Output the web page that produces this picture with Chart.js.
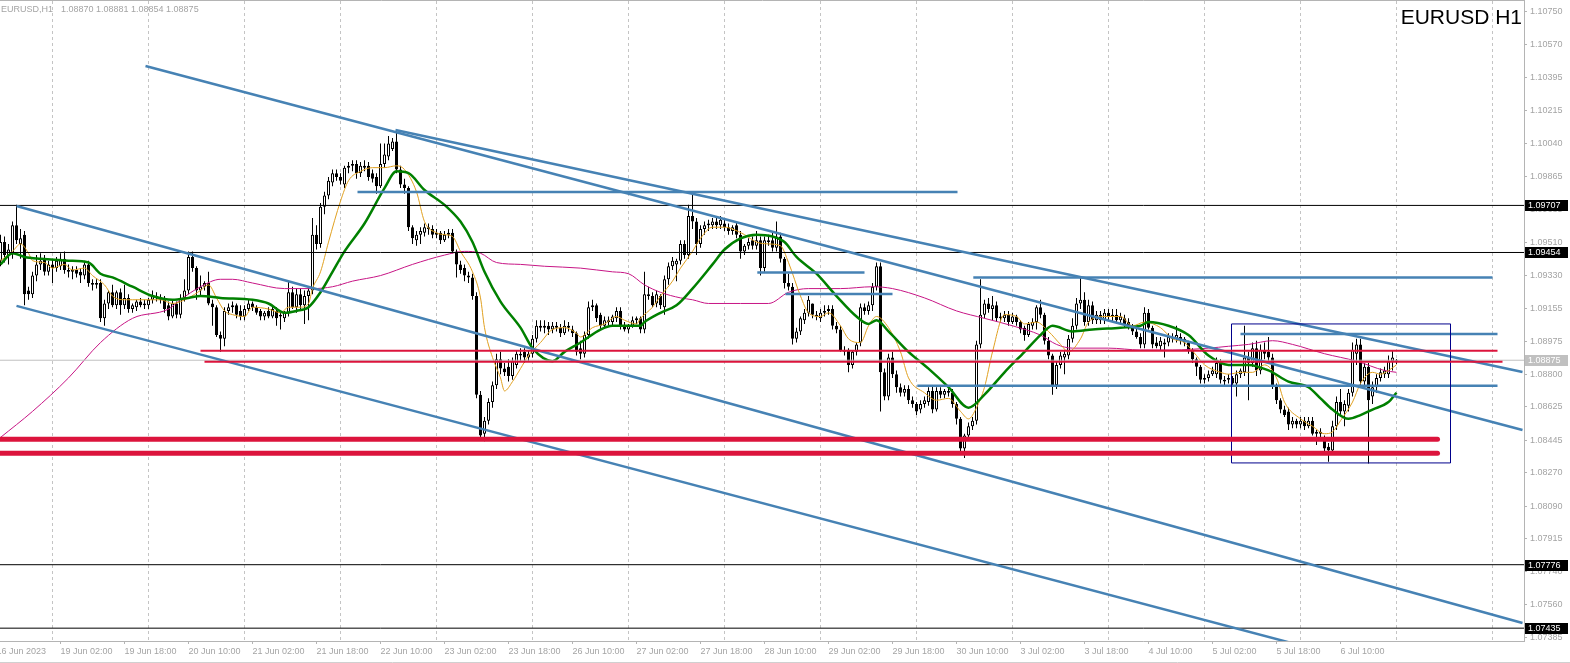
<!DOCTYPE html>
<html>
<head>
<meta charset="utf-8">
<title>EURUSD H1</title>
<style>
  html, body { margin: 0; padding: 0; background: #fff; }
  canvas { display: block; }
</style>
</head>
<body>
<canvas id="chart" width="1570" height="663"></canvas>
<script src="https://cdn.jsdelivr.net/npm/chart.js@4.4.1/dist/chart.umd.min.js"></script>
<script>
// EURUSD H1 candles, bar 0 = 16 Jun 2023 11:00 (weekends skipped, one bar per hour)
const opens = [
  1.0941,1.0951,1.0944,1.0945,1.0960,1.0950,1.0955,1.0925,1.0923,1.0933,
  1.0939,1.0942,1.0935,1.0939,1.0937,1.0938,1.0942,1.0936,1.0935,1.0936,
  1.0935,1.0933,1.0939,1.0929,1.0928,1.0929,1.0910,1.0918,1.0924,1.0917,
  1.0924,1.0917,1.0921,1.0915,1.0916,1.0919,1.0917,1.0917,1.0920,1.0922,
  1.0921,1.0920,1.0917,1.0911,1.0918,1.0912,1.0921,1.0925,1.0943,1.0937,
  1.0925,1.0927,1.0929,1.0918,1.0916,1.0901,1.0899,1.0914,1.0916,1.0917,
  1.0914,1.0911,1.0915,1.0918,1.0916,1.0914,1.0911,1.0914,1.0911,1.0914,
  1.0912,1.0910,1.0913,1.0924,1.0916,1.0923,1.0917,1.0922,1.0925,1.0955,
  1.0950,1.0970,1.0976,1.0983,1.0988,1.0986,1.0982,1.0991,1.0992,1.0993,
  1.0988,1.0992,1.0992,1.0988,1.0986,1.0981,1.0993,1.0997,1.1001,1.1005,
  1.0990,1.0982,1.0980,1.0959,1.0952,1.0955,1.0956,1.0959,1.0958,1.0955,
  1.0956,1.0952,1.0955,1.0956,1.0946,1.0939,1.0937,1.0933,1.0932,1.0922,
  1.0869,1.0848,1.0855,1.0865,1.0874,1.0888,1.0883,1.0884,1.0879,1.0885,
  1.0891,1.0892,1.0889,1.0891,1.0899,1.0906,1.0905,1.0906,1.0904,1.0906,
  1.0905,1.0902,1.0906,1.0904,1.0902,1.0894,1.0891,1.0901,1.0916,1.0917,
  1.0912,1.0906,1.0909,1.0908,1.0910,1.0914,1.0906,1.0904,1.0906,1.0909,
  1.0910,1.0904,1.0923,1.0922,1.0918,1.0922,1.0916,1.0931,1.0938,1.0939,
  1.0941,1.0950,1.0944,1.0965,1.0962,1.0950,1.0958,1.0960,1.0960,1.0962,
  1.0960,1.0961,1.0959,1.0957,1.0960,1.0955,1.0946,1.0949,1.0952,1.0949,
  1.0952,1.0937,1.0952,1.0952,1.0948,1.0954,1.0942,1.0929,1.0927,1.0899,
  1.0903,1.0909,1.0913,1.0918,1.0912,1.0910,1.0913,1.0914,1.0915,1.0906,
  1.0904,1.0893,1.0893,1.0885,1.0892,1.0897,1.0916,1.0914,1.0917,1.0927,
  1.0938,1.0881,1.0868,1.0889,1.0880,1.0873,1.0870,1.0872,1.0866,1.0864,
  1.0861,1.0864,1.0865,1.0871,1.0861,1.0871,1.0869,1.0871,1.0870,1.0864,
  1.0856,1.0840,1.0847,1.0852,1.0855,1.0896,1.0912,1.0918,1.0915,1.0917,
  1.0911,1.0910,1.0912,1.0908,1.0911,1.0908,1.0905,1.0901,1.0906,1.0908,
  1.0916,1.0912,1.0898,1.0890,1.0874,1.0885,1.0889,1.0890,1.0899,1.0906,
  1.0918,1.0920,1.0908,1.0917,1.0909,1.0912,1.0909,1.0913,1.0911,1.0912,
  1.0909,1.0910,1.0908,1.0906,1.0903,1.0900,1.0896,1.0913,1.0905,1.0897,
  1.0895,1.0896,1.0897,1.0900,1.0899,1.0900,1.0899,1.0897,1.0893,1.0888,
  1.0884,1.0877,1.0878,1.0880,1.0880,1.0886,1.0877,1.0877,1.0878,1.0875,
  1.0880,1.0881,1.0889,1.0886,1.0894,1.0882,1.0893,1.0892,1.0889,1.0874,
  1.0866,1.0861,1.0860,1.0853,1.0855,1.0853,1.0855,1.0852,1.0855,1.0848,
  1.0849,1.0846,1.0841,1.0839,1.0852,1.0865,1.0860,1.0863,1.0870,1.0891,
  1.0896,1.0876,1.0884,1.0868,1.0873,1.0878,1.0880,1.0880,1.0887,1.08870
];
const highs = [
  1.0955,1.0954,1.0950,1.0962,1.0971,1.0958,1.0957,1.0927,1.0935,1.0944,
  1.0945,1.0944,1.0941,1.0942,1.0943,1.0945,1.0946,1.0939,1.0938,1.0938,
  1.0937,1.0941,1.0941,1.0931,1.0931,1.0931,1.0920,1.0925,1.0928,1.0925,
  1.0926,1.0928,1.0923,1.0918,1.0920,1.0921,1.0920,1.0921,1.0925,1.0924,
  1.0923,1.0922,1.0919,1.0920,1.0919,1.0923,1.0931,1.0946,1.0946,1.0938,
  1.0933,1.0930,1.0935,1.0920,1.0917,1.0903,1.0916,1.0918,1.0919,1.0918,
  1.0917,1.0917,1.0920,1.0919,1.0917,1.0915,1.0914,1.0916,1.0917,1.0916,
  1.0913,1.0914,1.0930,1.0927,1.0926,1.0926,1.0925,1.0927,1.0964,1.0960,
  1.0972,1.0978,1.0986,1.0990,1.0990,1.0988,1.0992,1.0994,1.0995,1.0995,
  1.0994,1.0995,1.0994,1.0990,1.0988,1.1004,1.1004,1.1008,1.1007,1.1011,
  1.0992,1.0985,1.0981,1.0960,1.0957,1.0959,1.0961,1.0961,1.0960,1.0958,
  1.0957,1.0957,1.0958,1.0958,1.0947,1.0941,1.0939,1.0935,1.0934,1.0924,
  1.0871,1.0857,1.0867,1.0876,1.0891,1.0892,1.0886,1.0888,1.0889,1.0893,
  1.0894,1.0894,1.0893,1.0901,1.0909,1.0909,1.0909,1.0908,1.0908,1.0908,
  1.0907,1.0909,1.0908,1.0906,1.0903,1.0898,1.0903,1.0919,1.0920,1.0918,
  1.0913,1.0911,1.0911,1.0912,1.0916,1.0916,1.0908,1.0907,1.0911,1.0911,
  1.0911,1.0935,1.0927,1.0924,1.0925,1.0923,1.0933,1.0940,1.0943,1.0942,
  1.0952,1.0952,1.0971,1.0977,1.0964,1.0960,1.0962,1.0963,1.0964,1.0964,
  1.0965,1.0963,1.0961,1.0960,1.0962,1.0957,1.0950,1.0953,1.0954,1.0957,
  1.0954,1.0954,1.0955,1.0956,1.0962,1.0956,1.0943,1.0934,1.0929,1.0905,
  1.0911,1.0915,1.0922,1.0918,1.0914,1.0915,1.0917,1.0917,1.0917,1.0908,
  1.0906,1.0895,1.0894,1.0893,1.0897,1.0918,1.0918,1.0919,1.0929,1.0940,
  1.0940,1.0883,1.0891,1.0892,1.0882,1.0875,1.0874,1.0874,1.0868,1.0865,
  1.0866,1.0868,1.0873,1.0874,1.0873,1.0873,1.0872,1.0874,1.0872,1.0865,
  1.0857,1.0848,1.0854,1.0857,1.0898,1.0931,1.0920,1.0921,1.0922,1.0919,
  1.0913,1.0914,1.0914,1.0913,1.0912,1.0909,1.0906,1.0908,1.0910,1.0917,
  1.0920,1.0913,1.0900,1.0891,1.0887,1.0892,1.0893,1.0901,1.0910,1.0921,
  1.0932,1.0924,1.0920,1.0919,1.0914,1.0914,1.0915,1.0915,1.0915,1.0915,
  1.0913,1.0912,1.0910,1.0907,1.0905,1.0902,1.0916,1.0915,1.0906,1.0900,
  1.0900,1.0899,1.0902,1.0902,1.0906,1.0902,1.0900,1.0898,1.0894,1.0889,
  1.0885,1.0880,1.0882,1.0884,1.0889,1.0888,1.0879,1.0880,1.0879,1.0882,
  1.0883,1.0906,1.0892,1.0897,1.0898,1.0896,1.0897,1.0900,1.0891,1.0875,
  1.0867,1.0863,1.0862,1.0857,1.0856,1.0857,1.0857,1.0857,1.0857,1.0850,
  1.0851,1.0847,1.0843,1.0855,1.0868,1.0872,1.0866,1.0872,1.0897,1.0899,
  1.0899,1.0886,1.0886,1.0876,1.0880,1.0883,1.0884,1.0890,1.0893,1.08881
];
const lows = [
  1.0938,1.0940,1.0939,1.0942,1.0950,1.0942,1.0917,1.0920,1.0921,1.0930,
  1.0936,1.0933,1.0933,1.0929,1.0935,1.0936,1.0934,1.0932,1.0931,1.0932,
  1.0929,1.0931,1.0927,1.0925,1.0926,1.0908,1.0906,1.0915,1.0916,1.0915,
  1.0912,1.0915,1.0913,1.0913,1.0914,1.0916,1.0915,1.0915,1.0918,1.0919,
  1.0918,1.0913,1.0909,1.0910,1.0910,1.0910,1.0919,1.0923,1.0935,1.0920,
  1.0922,1.0925,1.0917,1.0906,1.0900,1.0892,1.0895,1.0912,1.0913,1.0910,
  1.0909,1.0909,1.0914,1.0914,1.0912,1.0909,1.0909,1.0910,1.0910,1.0906,
  1.0904,1.0908,1.0911,1.0915,1.0913,1.0915,1.0907,1.0909,1.0923,1.0947,
  1.0948,1.0966,1.0974,1.0981,1.0984,1.0982,1.0980,1.0988,1.0989,1.0985,
  1.0986,1.0989,1.0984,1.0983,1.0977,1.0980,1.0991,1.0995,1.1000,1.0988,
  1.0980,1.0977,1.0957,1.0950,1.0949,1.0950,1.0954,1.0955,1.0953,1.0953,
  1.0950,1.0951,1.0953,1.0945,1.0932,1.0934,1.0930,1.0929,1.0920,1.0867,
  1.0845,1.0844,1.0853,1.0862,1.0872,1.0880,1.0879,1.0876,1.0877,1.0883,
  1.0887,1.0886,1.0887,1.0889,1.0897,1.0903,1.0902,1.0901,1.0902,1.0903,
  1.0900,1.0901,1.0903,1.0900,1.0890,1.0888,1.0889,1.0899,1.0914,1.0908,
  1.0904,1.0905,1.0906,1.0906,1.0908,1.0904,1.0903,1.0902,1.0905,1.0907,
  1.0902,1.0902,1.0920,1.0916,1.0916,1.0915,1.0912,1.0928,1.0936,1.0930,
  1.0939,1.0942,1.0942,1.0958,1.0944,1.0948,1.0955,1.0957,1.0958,1.0958,
  1.0958,1.0957,1.0955,1.0955,1.0953,1.0942,1.0944,1.0947,1.0947,1.0947,
  1.0933,1.0935,1.0949,1.0946,1.0946,1.0940,1.0926,1.0925,1.0896,1.0897,
  1.0901,1.0907,1.0911,1.0910,1.0909,1.0908,1.0911,1.0912,1.0904,1.0902,
  1.0892,1.0890,1.0881,1.0883,1.0890,1.0895,1.0912,1.0912,1.0914,1.0925,
  1.0860,1.0866,1.0866,1.0878,1.0870,1.0868,1.0868,1.0864,1.0862,1.0858,
  1.0859,1.0862,1.0863,1.0859,1.0860,1.0867,1.0867,1.0868,1.0862,1.0853,
  1.0837,1.0835,1.0845,1.0850,1.0853,1.0894,1.0910,1.0913,1.0909,1.0908,
  1.0908,1.0908,1.0906,1.0907,1.0906,1.0902,1.0898,1.0900,1.0904,1.0904,
  1.0910,1.0896,1.0888,1.0869,1.0872,1.0883,1.0880,1.0888,1.0897,1.0904,
  1.0915,1.0906,1.0906,1.0907,1.0907,1.0907,1.0907,1.0909,1.0908,1.0907,
  1.0907,1.0905,1.0904,1.0901,1.0899,1.0894,1.0894,1.0904,1.0894,1.0894,
  1.0893,1.0889,1.0895,1.0897,1.0897,1.0896,1.0895,1.0891,1.0886,1.0879,
  1.0875,1.0875,1.0876,1.0879,1.0878,1.0875,1.0874,1.0875,1.0874,1.0868,
  1.0878,1.0879,1.0866,1.0884,1.0879,1.0880,1.0888,1.0886,1.0872,1.0864,
  1.0859,1.0857,1.0850,1.0851,1.0851,1.0851,1.0850,1.0851,1.0847,1.0842,
  1.0846,1.0838,1.0833,1.0837,1.0850,1.0858,1.0852,1.0860,1.0868,1.0885,
  1.0873,1.0872,1.0832,1.0864,1.0870,1.0876,1.0878,1.0878,1.0882,1.08854
];
const closes = [
  1.0951,1.0944,1.0947,1.0960,1.0952,1.0953,1.0923,1.0923,1.0933,1.0939,
  1.0941,1.0935,1.0939,1.0937,1.0941,1.0942,1.0936,1.0935,1.0936,1.0934,
  1.0933,1.0939,1.0929,1.0928,1.0929,1.0910,1.0918,1.0924,1.0917,1.0924,
  1.0917,1.0921,1.0915,1.0917,1.0919,1.0917,1.0918,1.0920,1.0922,1.0921,
  1.0920,1.0915,1.0911,1.0918,1.0912,1.0921,1.0925,1.0943,1.0937,1.0925,
  1.0927,1.0929,1.0918,1.0916,1.0901,1.0899,1.0914,1.0916,1.0917,1.0912,
  1.0911,1.0915,1.0918,1.0916,1.0913,1.0911,1.0913,1.0911,1.0915,1.0910,
  1.0911,1.0913,1.0924,1.0916,1.0923,1.0917,1.0922,1.0925,1.0955,1.0950,
  1.0970,1.0976,1.0984,1.0988,1.0986,1.0984,1.0991,1.0992,1.0993,1.0988,
  1.0992,1.0991,1.0986,1.0985,1.0981,1.0993,1.0998,1.1004,1.1005,1.0990,
  1.0982,1.0980,1.0959,1.0953,1.0955,1.0957,1.0959,1.0958,1.0955,1.0956,
  1.0952,1.0955,1.0956,1.0946,1.0939,1.0936,1.0933,1.0932,1.0922,1.0869,
  1.0847,1.0855,1.0865,1.0874,1.0888,1.0883,1.0881,1.0879,1.0887,1.0891,
  1.0890,1.0889,1.0891,1.0899,1.0906,1.0905,1.0906,1.0904,1.0906,1.0905,
  1.0902,1.0906,1.0905,1.0902,1.0892,1.0891,1.0901,1.0916,1.0917,1.0910,
  1.0906,1.0909,1.0908,1.0911,1.0914,1.0906,1.0904,1.0906,1.0909,1.0910,
  1.0904,1.0923,1.0922,1.0917,1.0923,1.0917,1.0931,1.0938,1.0941,1.0941,
  1.0950,1.0944,1.0965,1.0962,1.0950,1.0958,1.0960,1.0961,1.0962,1.0960,
  1.0963,1.0959,1.0957,1.0959,1.0955,1.0946,1.0949,1.0951,1.0949,1.0952,
  1.0937,1.0952,1.0951,1.0948,1.0954,1.0942,1.0929,1.0927,1.0899,1.0903,
  1.0910,1.0913,1.0920,1.0912,1.0911,1.0913,1.0914,1.0915,1.0906,1.0904,
  1.0893,1.0892,1.0885,1.0892,1.0896,1.0916,1.0914,1.0917,1.0927,1.0938,
  1.0881,1.0868,1.0889,1.0880,1.0873,1.0870,1.0872,1.0866,1.0864,1.0860,
  1.0864,1.0866,1.0871,1.0861,1.0871,1.0869,1.0871,1.0870,1.0864,1.0856,
  1.0840,1.0847,1.0852,1.0855,1.0896,1.0912,1.0918,1.0915,1.0917,1.0910,
  1.0910,1.0912,1.0908,1.0911,1.0908,1.0904,1.0901,1.0907,1.0908,1.0916,
  1.0912,1.0898,1.0890,1.0874,1.0885,1.0890,1.0891,1.0899,1.0906,1.0918,
  1.0920,1.0908,1.0917,1.0909,1.0912,1.0909,1.0913,1.0911,1.0912,1.0909,
  1.0911,1.0907,1.0905,1.0903,1.0900,1.0896,1.0913,1.0905,1.0896,1.0895,
  1.0898,1.0897,1.0900,1.0899,1.0901,1.0898,1.0897,1.0893,1.0888,1.0884,
  1.0877,1.0878,1.0880,1.0882,1.0886,1.0877,1.0876,1.0878,1.0875,1.0880,
  1.0882,1.0889,1.0886,1.0894,1.0882,1.0893,1.0891,1.0889,1.0874,1.0866,
  1.0861,1.0858,1.0853,1.0855,1.0853,1.0855,1.0852,1.0855,1.0848,1.0849,
  1.0848,1.0840,1.0839,1.0852,1.0865,1.0860,1.0864,1.0870,1.0893,1.0896,
  1.0876,1.0884,1.0866,1.0873,1.0878,1.0881,1.0882,1.0887,1.0889,1.08875
];

// moving averages: [bar, price]
const maFast = [
  [0,1.0941],[3,1.0946],[5,1.0950],[7,1.0945],[8,1.0941],[11,1.0940],[13,1.0937],[16,1.0939],[18,1.0936],[21,1.0937],
  [23,1.0933],[26,1.0928],[28,1.0922],[31,1.0920],[33,1.0920],[37,1.0920],[40,1.0920],[43,1.0918],[47,1.0921],[50,1.0925],
  [52,1.0928],[54,1.0921],[56,1.0914],[58,1.0912],[61,1.0911],[63,1.0916],[67,1.0915],[70,1.0913],[72,1.0916],[75,1.0916],
  [77,1.0918],[78,1.0926],[80,1.0935],[82,1.0951],[85,1.0973],[87,1.0984],[90,1.0989],[93,1.0991],[96,1.0991],[99,1.0992],
  [101,1.0990],[104,1.0978],[106,1.0962],[109,1.0956],[111,1.0955],[113,1.0954],[115,1.0946],[118,1.0935],[120,1.0921],[121,1.0905],
  [123,1.0889],[125,1.0878],[126,1.0871],[128,1.0876],[130,1.0883],[132,1.0890],[135,1.0897],[138,1.0904],[141,1.0905],[144,1.0902],
  [145,1.0900],[148,1.0905],[151,1.0907],[154,1.0911],[156,1.0909],[159,1.0907],[160,1.0910],[163,1.0916],[165,1.0922],[168,1.0930],
  [170,1.0937],[173,1.0946],[175,1.0953],[178,1.0959],[181,1.0959],[183,1.0958],[186,1.0955],[189,1.0951],[192,1.0950],[195,1.0949],
  [197,1.0940],[200,1.0922],[202,1.0913],[205,1.0911],[207,1.0913],[210,1.0906],[212,1.0899],[215,1.0897],[217,1.0906],[219,1.0911],
  [222,1.0905],[225,1.0892],[227,1.0878],[231,1.0870],[234,1.0866],[237,1.0867],[240,1.0860],[242,1.0856],[244,1.0862],[246,1.0873],
  [248,1.0892],[251,1.0912],[254,1.0911],[256,1.0907],[259,1.0908],[262,1.0903],[265,1.0896],[267,1.0892],[270,1.0899],[272,1.0908],
  [276,1.0911],[280,1.0911],[283,1.0906],[286,1.0908],[290,1.0905],[293,1.0899],[296,1.0897],[299,1.0890],[301,1.0885],[305,1.0881],
  [307,1.0880],[310,1.0881],[313,1.0881],[316,1.0885],[319,1.0878],[321,1.0865],[325,1.0856],[328,1.0852],[331,1.0848],[333,1.0849],
  [335,1.0855],[338,1.0865],[340,1.0875],[343,1.0881],[345,1.0880],[347,1.0882],[349,1.0885]
];
const maMid = [
  [0,1.0939],[3,1.0945],[6,1.0943],[10,1.0942],[17,1.0941],[22,1.0940],[25,1.0934],[28,1.0932],[33,1.0927],[38,1.0922],
  [43,1.0920],[47,1.0921],[50,1.0922],[55,1.0921],[63,1.0920],[67,1.0918],[71,1.0913],[74,1.0914],[77,1.0916],[80,1.0924],
  [83,1.0935],[86,1.0946],[91,1.0961],[96,1.0980],[99,1.0989],[102,1.0988],[106,1.0979],[111,1.0971],[115,1.0962],[118,1.0951],
  [121,1.0935],[125,1.0919],[130,1.0905],[133,1.0894],[138,1.0887],[141,1.0892],[145,1.0897],[150,1.0904],[153,1.0906],[160,1.0906],
  [161,1.0908],[165,1.0913],[169,1.0917],[173,1.0926],[178,1.0939],[181,1.0947],[185,1.0953],[189,1.0955],[193,1.0954],[196,1.0951],
  [199,1.0943],[204,1.0934],[209,1.0922],[214,1.0911],[217,1.0907],[219,1.0909],[222,1.0903],[227,1.0892],[232,1.0883],[237,1.0873],
  [242,1.0862],[246,1.0869],[251,1.0881],[256,1.0892],[260,1.0901],[263,1.0906],[268,1.0903],[273,1.0904],[280,1.0905],[285,1.0906],
  [287,1.0908],[292,1.0906],[297,1.0901],[302,1.0890],[307,1.0885],[312,1.0885],[317,1.0882],[322,1.0876],[327,1.0873],[330,1.0867],
  [333,1.0861],[337,1.0856],[340,1.0858],[343,1.0861],[347,1.0865],[349,1.0870]
];
const maSlow = [
  [0,1.0846],[8,1.0860],[17,1.0878],[25,1.0897],[33,1.0910],[42,1.0915],[45,1.0920],[50,1.0927],[55,1.0931],[58,1.0931],
  [63,1.0929],[71,1.0926],[78,1.0926],[83,1.0927],[88,1.0930],[95,1.0933],[103,1.0939],[111,1.0944],[116,1.0946],[120,1.0945],
  [124,1.0940],[130,1.0939],[136,1.0938],[145,1.0937],[153,1.0935],[157,1.0934],[161,1.0928],[165,1.0924],[170,1.0921],[173,1.0920],
  [177,1.0918],[185,1.0918],[192,1.0918],[197,1.0924],[202,1.0926],[210,1.0926],[218,1.0927],[223,1.0926],[231,1.0921],[239,1.0914],
  [246,1.0910],[253,1.0906],[260,1.0901],[264,1.0896],[268,1.0894],[277,1.0894],[285,1.0893],[293,1.0893],[302,1.0894],[307,1.0895],
  [312,1.0896],[318,1.0898],[323,1.0896],[331,1.0891],[339,1.0887],[346,1.0882],[349,1.0881]
];

// drawn objects, in bars and prices
const trendLines = [   // [barFrom, priceFrom, barTo, priceTo]
  [36.25, 1.10456, 380.5, 1.08500],
  [98.75, 1.10112, 380.5, 1.08812],
  [4, 1.09704, 380.5, 1.07463],
  [4, 1.09167, 330, 1.07314]
];
const blueLevels = [   // [barFrom, barTo, price]
  [89.25, 239.25, 1.09779],
  [189.2, 216, 1.09346],
  [196.25, 223, 1.09231],
  [243.2, 373, 1.09319],
  [229.2, 374.25, 1.08738],
  [310, 374.25, 1.09016]
];
const redThinLevels = [[50, 374.25, 1.08926], [51, 375.5, 1.08867]];
const redThickLevels = [[-2, 359.25, 1.08450], [-2, 359.25, 1.08375]];
const boxBars = [307.75, 362.5];
const boxPrices = [1.09070, 1.08323];
const blackLevels = [1.09707, 1.09454, 1.07776, 1.07435];

// axes
const timeTickBars = [-1, 15, 31, 47, 63, 79, 95, 111, 127, 143, 159, 175, 191, 207, 223, 239, 255, 271, 287, 303, 319, 335];
const timeTickLabels = ['16 Jun 2023', '19 Jun 02:00', '19 Jun 18:00', '20 Jun 10:00', '21 Jun 02:00', '21 Jun 18:00',
  '22 Jun 10:00', '23 Jun 02:00', '23 Jun 18:00', '26 Jun 10:00', '27 Jun 02:00', '27 Jun 18:00', '28 Jun 10:00',
  '29 Jun 02:00', '29 Jun 18:00', '30 Jun 10:00', '3 Jul 02:00', '3 Jul 18:00', '4 Jul 10:00', '5 Jul 02:00',
  '5 Jul 18:00', '6 Jul 10:00'];
const dayStartBars = [13, 37, 61, 85, 109, 133, 157, 181, 205, 229, 253, 277, 301, 325, 349, 373];
const priceTicks = [1.10750, 1.10570, 1.10395, 1.10215, 1.10040, 1.09865, 1.09685, 1.09510, 1.09330, 1.09155,
  1.08975, 1.08800, 1.08625, 1.08445, 1.08270, 1.08090, 1.07915, 1.07740, 1.07560, 1.07385];
const priceMin = 1.07366, priceMax = 1.10811;
const barMin = -0.125, barMax = 380.875;

const axisGray = '#b4b4b4';
const labelGray = '#a4a4a4';
const last = closes.length - 1;

function segment(b1, p1, b2, p2) {
    return [{x: b1, y: p1}, {x: b2, y: p2}];
}

function lineSet(data, color, width, order, cap) {
    return {
        type: 'line', data: data, borderColor: color, borderWidth: width,
        pointRadius: 0, fill: false, order: order, borderCapStyle: cap || 'butt'
    };
}

// no label overhang padding: the plot runs edge to edge like the terminal
function noPadding(s) {
    s.paddingLeft = 0;
    s.paddingRight = 0;
    s.paddingTop = 0;
    s.paddingBottom = 0;
}

const datasets = [];

// wicks and bodies
datasets.push({
    type: 'bar',
    data: highs.map((h, i) => ({x: i, y: [lows[i], h]})),
    backgroundColor: '#000', borderWidth: 0,
    barThickness: 1, maxBarThickness: 1, grouped: false, inflateAmount: 0, order: 6
});
datasets.push({
    type: 'bar',
    data: opens.map((o, i) => ({x: i, y: [o, closes[i]]})),
    backgroundColor: closes.map((c, i) => c >= opens[i] ? '#fff' : '#000'),
    borderColor: '#000', borderWidth: 1, borderSkipped: false,
    barThickness: 3, maxBarThickness: 3, minBarLength: 1, grouped: false, inflateAmount: 0, order: 5
});

// moving averages
const maStyle = {cubicInterpolationMode: 'monotone'};
datasets.push(Object.assign(lineSet(maSlow.map(([b, v]) => ({x: b, y: v})), '#c71585', 1, 4), maStyle));
datasets.push(Object.assign(lineSet(maMid.map(([b, v]) => ({x: b, y: v})), '#008000', 2.5, 3), maStyle));
datasets.push(Object.assign(lineSet(maFast.map(([b, v]) => ({x: b, y: v})), '#e0a020', 1, 3), maStyle));

// horizontal levels
datasets.push(lineSet(segment(-2, closes[last], 382, closes[last]), '#c0c0c0', 1, 2));
blackLevels.forEach(p => datasets.push(lineSet(segment(-2, p, 382, p), '#000', 1, 2)));
blueLevels.forEach(([b1, b2, p]) => datasets.push(lineSet(segment(b1, p, b2, p), '#4682b4', 2.5, 1)));
trendLines.forEach(([b1, p1, b2, p2]) => datasets.push(lineSet(segment(b1, p1, b2, p2), '#4682b4', 2.5, 1)));
redThinLevels.forEach(([b1, b2, p]) => datasets.push(lineSet(segment(b1, p, b2, p), '#dc143c', 2, 0)));
redThickLevels.forEach(([b1, b2, p]) => datasets.push(lineSet(segment(b1, p, b2, p), '#dc143c', 5, 0, 'round')));

// rectangle
datasets.push(lineSet([
    {x: boxBars[0], y: boxPrices[0]}, {x: boxBars[1], y: boxPrices[0]},
    {x: boxBars[1], y: boxPrices[1]}, {x: boxBars[0], y: boxPrices[1]},
    {x: boxBars[0], y: boxPrices[0]}
], '#00008b', 1, 0));

// price boxes, titles and frame
const overlay = {
    id: 'overlay',
    afterDraw(chart) {
        const {ctx, chartArea, scales} = chart;
        const y = scales.y;
        ctx.save();
        ctx.font = '9px "Liberation Sans"';
        ctx.textBaseline = 'middle';
        const box = (value, bg) => {
            const py = Math.round(y.getPixelForValue(value));
            ctx.fillStyle = bg;
            ctx.fillRect(chartArea.right + 1, py - 5, 43, 11);
            ctx.fillStyle = '#fff';
            ctx.fillText(value.toFixed(5), chartArea.right + 4, py + 0.5);
        };
        blackLevels.forEach(v => box(v, '#000'));
        box(closes[last], '#c0c0c0');

        ctx.textBaseline = 'alphabetic';
        ctx.fillStyle = labelGray;
        ctx.fillText('EURUSD,H1', 1, 12);
        ctx.fillText([opens[last], highs[last], lows[last], closes[last]].map(v => v.toFixed(5)).join(' '), 61, 12);

        ctx.font = '21px "Liberation Sans"';
        ctx.fillStyle = '#000';
        ctx.textAlign = 'right';
        ctx.fillText('EURUSD H1', chartArea.right - 2, 24);

        ctx.strokeStyle = '#d0d0d0';
        ctx.lineWidth = 1;
        ctx.beginPath();
        ctx.moveTo(0, chart.height - 0.5);
        ctx.lineTo(chart.width, chart.height - 0.5);
        ctx.stroke();
        ctx.restore();
    }
};

Chart.defaults.font.family = '"Liberation Sans"';

new Chart(document.getElementById('chart'), {
    type: 'bar',
    data: {datasets: datasets},
    options: {
        responsive: false,
        animation: false,
        events: [],
        layout: {padding: 0},
        plugins: {legend: {display: false}, tooltip: {enabled: false}},
        scales: {
            x: {
                type: 'linear', position: 'bottom', min: barMin, max: barMax, offset: false,
                afterBuildTicks: s => { s.ticks = timeTickBars.map(v => ({value: v})); },
                afterFit: s => { s.height = 22; noPadding(s); },
                grid: {drawOnChartArea: false, tickLength: 3, color: axisGray, offset: false},
                border: {display: true, color: axisGray},
                ticks: {
                    autoSkip: false, maxRotation: 0, align: 'start', padding: 2,
                    color: labelGray, font: {size: 9},
                    callback: (v, i) => timeTickLabels[i]
                }
            },
            days: {
                type: 'linear', position: 'top', min: barMin, max: barMax, offset: false,
                afterBuildTicks: s => { s.ticks = dayStartBars.map(v => ({value: v})); },
                afterFit: s => { s.height = 0; noPadding(s); },
                grid: {color: '#c4c4c4', lineWidth: 1, drawTicks: false, offset: false},
                border: {display: true, color: axisGray, dash: [3, 3]},
                ticks: {display: false}
            },
            y: {
                type: 'linear', position: 'right', min: priceMin, max: priceMax,
                afterBuildTicks: s => { s.ticks = priceTicks.map(v => ({value: v})); },
                afterFit: s => { s.width = 46; noPadding(s); },
                grid: {drawOnChartArea: false, tickLength: 3, color: axisGray},
                border: {display: true, color: axisGray},
                ticks: {padding: 3, color: labelGray, font: {size: 9}, callback: v => v.toFixed(5)}
            }
        }
    },
    plugins: [overlay]
});
</script>
</body>
</html>
